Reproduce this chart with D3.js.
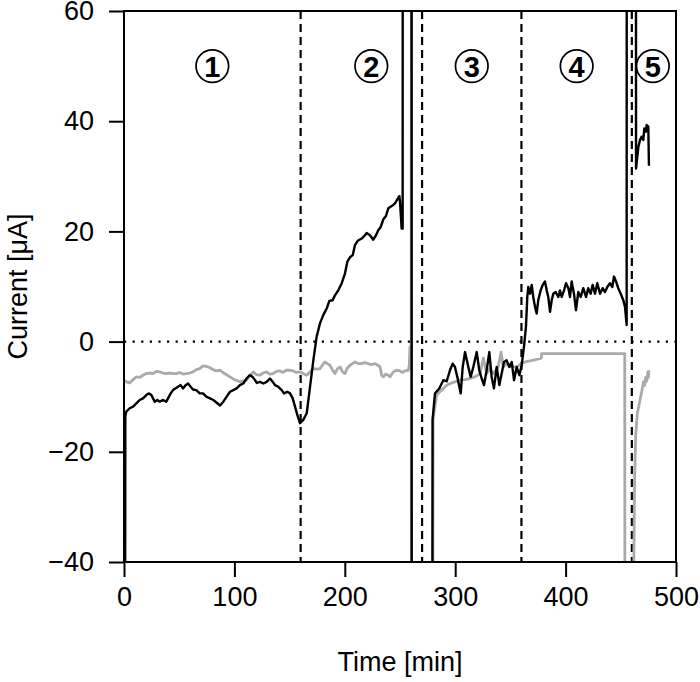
<!DOCTYPE html>
<html>
<head>
<meta charset="utf-8">
<script src="https://cdn.jsdelivr.net/npm/d3@7"></script>
<style>
  body { margin: 0; background: #fff; }
  svg { display: block; font-family: "Liberation Sans", Arial, sans-serif; }
</style>
</head>
<body>
<div id="chart"></div>
<script>
// black trace [time (min), current (uA)] -- values beyond the frame are clipped
const blackSeries = [
  [0.8,-100],[1.2,-13.5],[2.1,-12.7],[5.1,-12.1],[8.2,-11.8],[11.2,-11.2],[14.2,-10.6],[17.2,-10.3],
  [20.2,-9.7],[22.3,-9.4],[24.8,-9.7],[26.3,-10.3],[27.8,-10.9],[30.2,-10.6],[32.3,-10.9],[35.3,-10.6],
  [38.3,-10.9],[39.9,-10.3],[42.3,-9.4],[44.4,-8.8],[46.5,-8.5],[48.9,-8.2],[51.3,-7.9],[53.4,-8.5],
  [55.9,-7.9],[58,-7.6],[60.4,-8.2],[62.5,-8.7],[65.5,-8.8],[68.6,-9.4],[71.6,-9.4],[74.5,-10.0],
  [77.9,-10.3],[80.9,-10.6],[84,-11.1],[87,-11.6],[90,-10.9],[93,-10.0],[96,-9.1],[99,-8.8],
  [102,-8.5],[105,-7.9],[108,-7.6],[111,-6.7],[114,-6.1],[116.5,-6.4],[118.7,-7.0],[120.2,-7.5],
  [123.2,-7.3],[126.2,-7.6],[129.2,-7.3],[132.2,-6.7],[134.7,-7.3],[136.8,-7.9],[139.8,-8.2],[142.8,-8.8],
  [144.9,-9.4],[147.9,-9.1],[150.4,-9.4],[152.8,-10.3],[154.9,-11.8],[157,-13.3],[159.4,-14.8],[162.4,-14.2],
  [165.5,-13.0],[168.5,-8.2],[171.5,-3.4],[174.5,0.9],[177.5,3.3],[180.5,4.8],[183.6,6.0],[186,7.4],
  [189,7.5],[191.1,8.4],[194.1,9.3],[197.2,10.6],[200.2,12.4],[202.3,14.5],[204.7,15.3],[207.2,15.7],
  [209.2,17.5],[211.7,18.3],[215.3,18.7],[218.3,19.3],[219.8,19.7],[222.8,19.3],[225.8,18.5],[228.3,19.3],
  [230.3,20.2],[232.5,20.8],[234.9,22.2],[237.3,22.8],[239.4,24.2],[242.5,24.6],[245.5,25.1],[247.6,25.8],
  [249.4,26.4],[250,25.4],[251.5,20.5],[252.4,20.5],[252.5,100],[260.5,100],[260.6,-100],[279.2,-100],
  [279.5,-14.2],[281.7,-9.4],[285.6,-8.5],[289.2,-7.0],[292.3,-7.2],[295.3,-5.2],[297.7,-4.0],[299.8,-4.6],
  [301.9,-6.4],[305,-9.4],[306.8,-4.6],[308.9,-1.9],[311.9,-4.6],[314,-6.4],[316.4,-4.6],[319.5,-1.9],
  [321.8,-5.2],[324,-6.7],[326.1,-7.9],[328.5,-5.2],[330.9,-1.9],[333,-6.4],[335.1,-8.5],[337.6,-4.6],
  [340,-7.9],[342.1,-5.8],[344.2,-3.7],[346.6,-3.4],[349,-4.6],[351.2,-3.7],[353.3,-7.0],[355.7,-4.6],
  [358.1,-6.1],[360.2,-4.3],[362.3,-0.9],[364.1,2.7],[365.3,8.1],[366.2,9.9],[367.8,8.7],[369.3,10.3],
  [370.7,8.1],[372.3,6.3],[373.8,5.1],[375.2,7.5],[377.4,9.3],[379.3,10.3],[381.3,10.9],[382.9,9.3],
  [384.3,8.1],[385.9,5.4],[387.4,7.5],[388.9,8.7],[391,9.0],[393.4,8.1],[394.9,9.3],[396.5,8.1],
  [398.6,9.3],[400.4,10.6],[402.5,9.7],[404,8.1],[405.5,10.9],[407.6,8.7],[409.4,5.7],[411.5,9.0],
  [413.7,8.1],[416,9.7],[418.5,8.1],[420.5,9.7],[422.7,8.7],[424.5,10.3],[426.6,8.7],[428.7,10.6],
  [431.2,8.7],[433.6,9.7],[435.7,9.0],[437.8,9.9],[440.2,10.6],[442.3,9.9],[443.8,11.8],[445.7,10.9],
  [447.7,9.7],[449.9,8.7],[452.3,7.5],[453.8,6.3],[455.3,3.0],[455.4,100],[463.7,100],[463.8,31.4],
  [465.9,35.3],[467.4,36.6],[468.9,37.2],[470.4,36.6],[471.3,38.7],[472.8,38.1],[473.4,39.3],[474.9,39.0],
  [475.5,31.9]
];

// grey trace
const greySeries = [
  [0.5,-7.0],[2.1,-7.3],[5.1,-7.5],[8.2,-6.9],[11.2,-6.4],[14.2,-6.5],[17.2,-6.1],[20.2,-5.8],
  [23.2,-5.7],[26.3,-5.8],[29.3,-5.4],[32.3,-5.5],[35.3,-5.7],[38.3,-5.8],[41.4,-5.7],[44.4,-5.8],
  [47.4,-5.8],[50.4,-5.6],[53.4,-5.9],[56.5,-5.8],[59.5,-5.7],[62.5,-5.5],[65.5,-5.1],[68.6,-4.9],
  [71.6,-4.4],[74.6,-4.5],[77.6,-4.7],[80.6,-5.1],[83.6,-5.3],[87,-5.2],[91,-5.8],[96,-6.4],
  [100,-6.9],[105,-7.3],[111,-7.0],[114,-6.2],[117,-5.5],[120,-6.0],[123,-6.1],[126,-5.7],
  [129,-5.5],[132,-5.9],[135,-5.8],[138,-5.4],[141,-5.3],[144,-5.6],[147,-5.2],[150.4,-5.2],
  [153,-5.3],[156,-5.6],[159.4,-5.5],[162,-5.8],[165.5,-6.1],[168.5,-5.5],[171.5,-4.9],[174.5,-5.0],
  [177.5,-4.9],[180,-4.2],[182,-3.7],[184,-4.0],[186.6,-4.3],[189,-5.2],[191.1,-5.8],[193,-5.0],
  [195.7,-4.6],[198,-5.5],[200.2,-5.8],[202,-4.9],[204.7,-4.3],[207,-4.0],[209.2,-3.7],[212,-4.0],
  [215.3,-4.0],[218,-3.8],[221.3,-4.0],[224,-4.2],[227.4,-4.0],[230,-4.3],[231.9,-4.6],[233.4,-6.1],
  [234.9,-6.4],[237,-5.9],[239.4,-6.1],[241,-6.4],[243.9,-5.5],[247,-5.2],[250,-5.3],[252,-5.6],
  [254.5,-5.3],[257.5,-5.2],[258.4,-4.3],[259,-1.0],[260.2,-1.0],[260.4,100],[260.5,-100],[279.0,-100],
  [280,-14],[283.2,-9.7],[287.8,-8.8],[292.3,-7.9],[295.3,-7.6],[299.8,-7.3],[304.3,-7.0],[308.9,-6.9],
  [313.4,-6.7],[317.9,-6.4],[322.5,-5.8],[325.5,-3.0],[328.5,-5.8],[331.5,-4.9],[334.5,-5.8],[339,-4.6],
  [341.5,-1.9],[343.6,-4.6],[346.6,-4.0],[351.2,-4.6],[355.7,-4.6],[360.2,-4.0],[363.2,-3.7],[367.8,-3.5],
  [372,-3.3],[378,-3.0],[378.3,-2.2],[453.6,-2.2],[453.8,-100],[461.3,-100],[461.8,-40],[462.5,-25],
  [463.5,-17],[465,-13],[467,-11],[469,-9],[470.5,-7.3],[471.5,-8],[472.5,-6.5],[473.5,-7.2],
  [474.5,-5.5],[475,-6.5],[475.5,-5.2]
];

const phaseBounds = [160, 270, 360, 460];          // dashed separators
const phaseLabels = ['1', '2', '3', '4', '5'];
const phaseLabelTime = [80, 224, 315, 410, 479];
const phaseLabelLevel = 50;
const xTicks = [0, 100, 200, 300, 400, 500];
const yTicks = [-40, -20, 0, 20, 40, 60];

const width = 700;
const height = 682;
const margin = { top: 11, right: 24, bottom: 120, left: 124 };

const svg = d3.select('#chart')
  .append('svg')
  .attr('width', width)
  .attr('height', height);

const x = d3.scaleLinear()
  .domain([0, 500])
  .range([margin.left, width - margin.right]);

const y = d3.scaleLinear()
  .domain([-40, 60])
  .range([height - margin.bottom, margin.top]);

svg.append('clipPath')
  .attr('id', 'plotClip')
  .append('rect')
  .attr('x', margin.left)
  .attr('y', margin.top)
  .attr('width', x(500) - x(0))
  .attr('height', y(-40) - y(60));

const plot = svg.append('g').attr('clip-path', 'url(#plotClip)');

// zero line (dotted)
plot.append('line')
  .attr('x1', x(0)).attr('x2', x(500))
  .attr('y1', y(0)).attr('y2', y(0))
  .attr('stroke', '#000')
  .attr('stroke-width', 2.2)
  .attr('stroke-dasharray', '2.2 6.4');

// phase separators
plot.selectAll('.sep')
  .data(phaseBounds)
  .enter()
  .append('line')
  .attr('class', 'sep')
  .attr('x1', (d) => x(d)).attr('x2', (d) => x(d))
  .attr('y1', y(60)).attr('y2', y(-40))
  .attr('stroke', '#000')
  .attr('stroke-width', 2.2)
  .attr('stroke-dasharray', '8 5');

const line = d3.line()
  .x((d) => x(d[0]))
  .y((d) => y(d[1]));

plot.append('path')
  .datum(greySeries)
  .attr('fill', 'none')
  .attr('stroke', '#aaaaaa')
  .attr('stroke-width', 2.8)
  .attr('stroke-linejoin', 'round')
  .attr('d', line);

plot.append('path')
  .datum(blackSeries)
  .attr('fill', 'none')
  .attr('stroke', '#000')
  .attr('stroke-width', 2.4)
  .attr('stroke-linejoin', 'round')
  .attr('d', line);

// circled phase numbers
const labels = svg.append('g')
  .selectAll('g')
  .data(phaseLabels)
  .enter()
  .append('g')
  .attr('transform', (d, i) => `translate(${x(phaseLabelTime[i])},${y(phaseLabelLevel)})`);

labels.append('circle')
  .attr('r', 16.3)
  .attr('fill', '#fff')
  .attr('stroke', '#000')
  .attr('stroke-width', 1.7);

labels.append('text')
  .attr('text-anchor', 'middle')
  .attr('dy', '0.36em')
  .style('font-size', '29px')
  .style('font-weight', 'bold')
  .text((d) => d);

// axes
const xAxis = svg.append('g')
  .attr('transform', `translate(0,${y(-40)})`)
  .call(d3.axisBottom(x).tickValues(xTicks).tickSize(15).tickPadding(10).tickSizeOuter(0));

const yAxis = svg.append('g')
  .attr('transform', `translate(${x(0)},0)`)
  .call(d3.axisLeft(y).tickValues(yTicks).tickSize(15).tickPadding(15).tickSizeOuter(0)
    .tickFormat((d) => (d < 0 ? '\u2212' + Math.abs(d) : d)));

[xAxis, yAxis].forEach((g) => {
  g.select('.domain').remove();
  g.selectAll('.tick line').attr('stroke', '#000').attr('stroke-width', 2);
  g.selectAll('.tick text')
    .attr('fill', '#000')
    .style('font-size', '27px')
    .style('font-family', '"Liberation Sans", Arial, sans-serif');
});

// frame
svg.append('rect')
  .attr('x', x(0))
  .attr('y', y(60))
  .attr('width', x(500) - x(0))
  .attr('height', y(-40) - y(60))
  .attr('fill', 'none')
  .attr('stroke', '#000')
  .attr('stroke-width', 2);

svg.append('text')
  .attr('x', (x(0) + x(500)) / 2)
  .attr('y', 671)
  .attr('text-anchor', 'middle')
  .style('font-size', '27px')
  .text('Time [min]');

svg.append('text')
  .attr('transform', `translate(27,${(y(60) + y(-40)) / 2}) rotate(-90)`)
  .attr('text-anchor', 'middle')
  .style('font-size', '27px')
  .text('Current [μA]');
</script>
</body>
</html>
